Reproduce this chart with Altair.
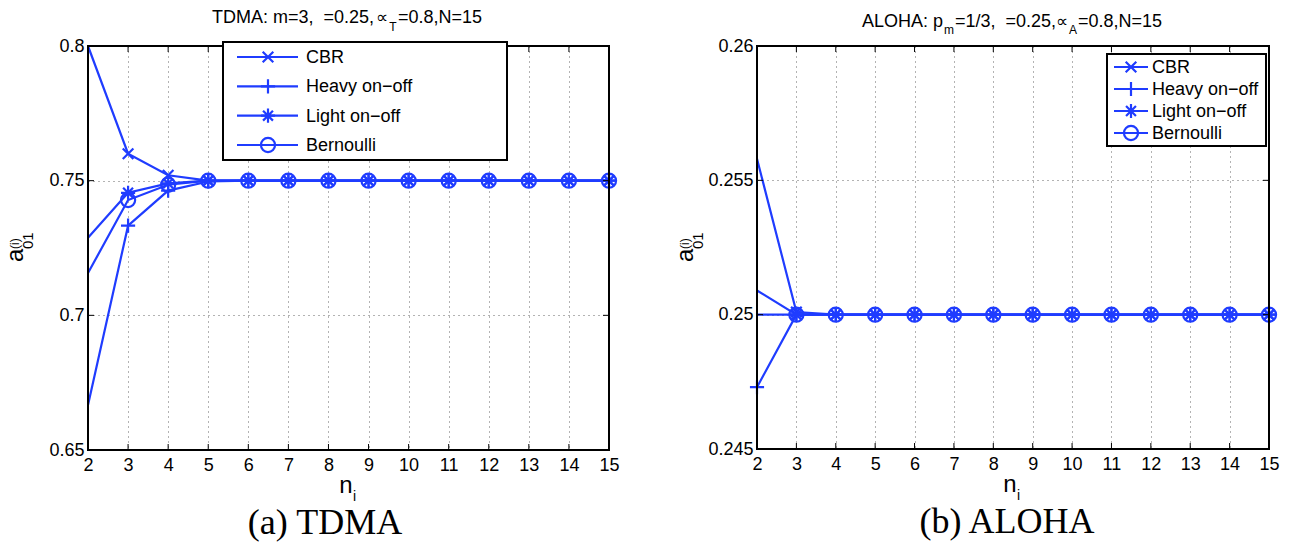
import altair as alt
import pandas as pd

BLUE = "#1f3cff"
SERIES = ["CBR", "Heavy on\u2212off", "Light on\u2212off", "Bernoulli"]
SHAPES = [
    "M-0.75,-0.75L0.75,0.75M-0.75,0.75L0.75,-0.75",
    "M-1,0L1,0M0,-1L0,1",
    "M-1,0L1,0M0,-1L0,1M-0.7,-0.7L0.7,0.7M-0.7,0.7L0.7,-0.7",
    "circle",
]
N = list(range(2, 16))
X_TICKS = list(range(2, 16))

TDMA_CBR = [0.8, 0.760, 0.752, 0.750, 0.75, 0.75, 0.75, 0.75, 0.75, 0.75, 0.75, 0.75, 0.75, 0.75]
TDMA_HEAVY = [0.6667, 0.7333, 0.7463, 0.7497, 0.75, 0.75, 0.75, 0.75, 0.75, 0.75, 0.75, 0.75, 0.75, 0.75]
TDMA_LIGHT = [0.7288, 0.7455, 0.7490, 0.7500, 0.75, 0.75, 0.75, 0.75, 0.75, 0.75, 0.75, 0.75, 0.75, 0.75]
TDMA_BERN = [0.7157, 0.7428, 0.7485, 0.7500, 0.75, 0.75, 0.75, 0.75, 0.75, 0.75, 0.75, 0.75, 0.75, 0.75]
TDMA_MARK_AT_2 = []

ALOHA_CBR = [0.2558, 0.2501, 0.25, 0.25, 0.25, 0.25, 0.25, 0.25, 0.25, 0.25, 0.25, 0.25, 0.25, 0.25]
ALOHA_HEAVY = [0.2473, 0.2500, 0.25, 0.25, 0.25, 0.25, 0.25, 0.25, 0.25, 0.25, 0.25, 0.25, 0.25, 0.25]
ALOHA_LIGHT = [0.2509, 0.2500, 0.25, 0.25, 0.25, 0.25, 0.25, 0.25, 0.25, 0.25, 0.25, 0.25, 0.25, 0.25]
ALOHA_BERN = [0.2500, 0.2500, 0.25, 0.25, 0.25, 0.25, 0.25, 0.25, 0.25, 0.25, 0.25, 0.25, 0.25, 0.25]
ALOHA_MARK_AT_2 = ["Heavy on\u2212off"]

TDMA_YTICKS = [0.65, 0.7, 0.75, 0.8]
ALOHA_YTICKS = [0.245, 0.25, 0.255, 0.26]

SANS = "Liberation Sans"
SERIF = "Liberation Serif"
ONE = pd.DataFrame({"k": [1]})
NB = "\u00a0"


def long_df(vals):
    rows = []
    for s, v in zip(SERIES, vals):
        for n, y in zip(N, v):
            rows.append({"n": n, "series": s, "value": y})
    return pd.DataFrame(rows)


def txt(text, x, y, size, align="left", angle=0, font=SANS):
    return alt.Chart(ONE).mark_text(
        text=text, align=align, baseline="alphabetic", angle=angle,
        font=font, fontSize=size, color="black"
    ).encode(x=alt.value(x), y=alt.value(y))


def panel(vals, mark2, ydom, yticks, yfmt, w, h, title_marks, leg, ann):
    df = long_df(vals)
    xs = alt.Scale(domain=[2, 15], nice=False, zero=False)
    ys = alt.Scale(domain=ydom, nice=False, zero=False)
    xaxis = alt.Axis(values=X_TICKS, grid=True, gridDash=[1, 4], gridColor="#666",
                     gridWidth=1, ticks=False, domain=False, labelFontSize=18,
                     labelFont=SANS, labelColor="black", labelPadding=6, title=None,
                     labelFlush=False)
    yaxis = alt.Axis(values=yticks, format=yfmt, grid=True, gridDash=[1, 4],
                     gridColor="#666", gridWidth=1, ticks=False, domain=False,
                     labelFontSize=18, labelFont=SANS, labelColor="black",
                     labelPadding=4, title=None, labelFlush=False)
    base = alt.Chart(df).encode(
        x=alt.X("n:Q", scale=xs, axis=xaxis),
        y=alt.Y("value:Q", scale=ys, axis=yaxis),
    )
    lines = base.mark_line(color=BLUE, strokeWidth=2.2).encode(detail="series:N")
    keep = " || ".join(["datum.n > 2"] + [f"datum.series == '{s}'" for s in mark2])
    pts = base.transform_filter(keep).mark_point(
        filled=False, color=BLUE, strokeWidth=2.2, size=200, opacity=1
    ).encode(
        shape=alt.Shape("series:N", scale=alt.Scale(domain=SERIES, range=SHAPES), legend=None)
    )
    xt = pd.DataFrame({"t": X_TICKS})
    yt = pd.DataFrame({"t": yticks})
    tick_top = alt.Chart(xt).mark_rule(color="black", strokeWidth=1).encode(
        x=alt.X("t:Q", scale=xs, axis=xaxis), y=alt.value(0), y2=alt.value(6))
    tick_bot = alt.Chart(xt).mark_rule(color="black", strokeWidth=1).encode(
        x=alt.X("t:Q", scale=xs, axis=xaxis), y=alt.value(h - 6), y2=alt.value(h))
    tick_l = alt.Chart(yt).mark_rule(color="black", strokeWidth=1).encode(
        y=alt.Y("t:Q", scale=ys, axis=yaxis), x=alt.value(0), x2=alt.value(6))
    tick_r = alt.Chart(yt).mark_rule(color="black", strokeWidth=1).encode(
        y=alt.Y("t:Q", scale=ys, axis=yaxis), x=alt.value(w - 6), x2=alt.value(w))
    frame = alt.Chart(ONE).mark_rect(fillOpacity=0, stroke="black", strokeWidth=2).encode(
        x=alt.value(0), x2=alt.value(w), y=alt.value(0), y2=alt.value(h))
    main = alt.layer(lines, pts, tick_top, tick_bot, tick_l, tick_r, frame)

    bx0, bx1, by0, by1, r0, r3, lx0, lx1, mx, tx, lsize = leg
    legdf = pd.DataFrame({"series": SERIES})
    ly = alt.Y("series:N", sort=SERIES,
               scale=alt.Scale(type="point", domain=SERIES, range=[r0, r3], padding=0),
               axis=None)
    box = alt.Chart(ONE).mark_rect(fill="white", stroke="black", strokeWidth=2).encode(
        x=alt.value(bx0), x2=alt.value(bx1), y=alt.value(by0), y2=alt.value(by1))
    lrule = alt.Chart(legdf).mark_rule(color=BLUE, strokeWidth=2.2).encode(
        x=alt.value(lx0), x2=alt.value(lx1), y=ly)
    lpts = alt.Chart(legdf).mark_point(filled=False, color=BLUE, strokeWidth=2.2, size=200, opacity=1).encode(
        x=alt.value(mx), y=ly,
        shape=alt.Shape("series:N", scale=alt.Scale(domain=SERIES, range=SHAPES), legend=None))
    ltxt = alt.Chart(legdf).mark_text(align="left", baseline="middle", font=SANS,
                                      fontSize=lsize, color="black", dy=1).encode(
        x=alt.value(tx), y=ly, text="series:N")
    legend = alt.layer(box, lrule, lpts, ltxt)

    extras = title_marks + ann
    return alt.layer(main, legend, *extras).resolve_scale(y="independent").properties(
        width=w, height=h)


LW, LH = 521, 404
RW, RH = 512, 403

left_title = [
    txt("TDMA: m=3," + NB + NB + "=0.25,", 286, -23, 18, align="right"),
    txt("\u221d", 294, -23, 17, align="center"),
    txt("T", 305, -15, 12, align="center"),
    txt("=0.8,N=15", 310, -23, 18),
]
left_ann = [
    txt("n", 258, 447, 24, align="center"),
    txt("i", 265, 455, 14),
    txt("(a) TDMA", 237, 488, 36, align="center", font=SERIF),
    txt("a", -65, 216, 24, angle=270),
    txt("01", -55, 203, 15, angle=270),
    txt("(i)", -69, 203, 12, angle=270),
]
left_leg = (135, 419, -4, 114, 11, 99, 149, 210, 180, 218, 18)

right_title = [
    txt("ALOHA: p", 105, -19, 18),
    txt("m", 187, -12, 12),
    txt("=1/3," + NB + NB + "=0.25,", 198, -19, 18),
    txt("\u221d", 305, -19, 17, align="center"),
    txt("A", 312, -12, 12),
    txt("=0.8,N=15", 321, -19, 18),
]
right_ann = [
    txt("n", 253, 446, 24, align="center"),
    txt("i", 260, 454, 14),
    txt("(b) ALOHA", 250, 487, 36, align="center", font=SERIF),
    txt("a", -64, 216, 24, angle=270),
    txt("01", -54, 203, 15, angle=270),
    txt("(i)", -68, 203, 12, angle=270),
]
right_leg = (350, 509, 8, 100, 21, 87, 357, 391, 374, 395, 18)

left = panel([TDMA_CBR, TDMA_HEAVY, TDMA_LIGHT, TDMA_BERN], TDMA_MARK_AT_2, [0.65, 0.8],
             TDMA_YTICKS, ".2~f", LW, LH, left_title, left_leg, left_ann)
right = panel([ALOHA_CBR, ALOHA_HEAVY, ALOHA_LIGHT, ALOHA_BERN], ALOHA_MARK_AT_2, [0.245, 0.26],
              ALOHA_YTICKS, ".3~f", RW, RH, right_title, right_leg, right_ann)

chart = alt.hconcat(left, right, spacing=148, bounds="flush").properties(
    padding={"left": 3, "top": 8, "right": 5, "bottom": 2}
).configure_view(stroke=None).configure(background="white")

chart.save("out.html", embed_options={"renderer": "svg", "actions": False})
